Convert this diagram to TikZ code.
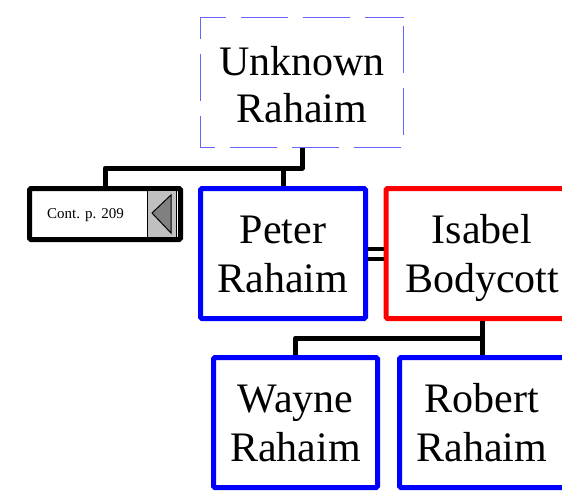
\documentclass[tikz,border=0pt]{standalone}
\usepackage{fontspec}
\setmainfont{Liberation Serif}
\definecolor{dashblue}{RGB}{100,100,255}
\definecolor{panelgrey}{RGB}{192,192,192}
\definecolor{arrowgrey}{RGB}{128,128,128}
\newcommand{\twolines}[3]{\raisebox{0pt}[0pt][#1]{\begin{tabular}[t]{@{}c@{}}#2\\#3\end{tabular}}}
\begin{document}
\begin{tikzpicture}[x=1pt,y=-1pt,
  person/.style={draw=#1, line width=5pt, rounded corners=1.5pt,
    font=\fontsize{42}{49}\selectfont, inner sep=0pt,
    minimum width=165pt, minimum height=130pt},
  unknownbox/.style={draw=none, font=\fontsize{42}{47}\selectfont, inner sep=0pt,
    minimum width=203pt, minimum height=130pt},
  dashedborder/.style={draw=dashblue, line width=1.3pt,
    dash pattern=on 47pt off 15pt, dash phase=53pt},
  contbox/.style={draw=black, line width=5pt, rounded corners=1.5pt, inner sep=0pt,
    minimum width=151pt, minimum height=51pt},
  link/.style={draw=black, line width=5pt, line join=round},
  marriage/.style={draw=black, line width=4pt},
  smalltext/.style={inner sep=0pt, font=\fontsize{15}{18}\selectfont}
]
\useasboundingbox (0,0) rectangle (562,490);
\clip (0,0) rectangle (562,490);

\node[unknownbox] (unknown) at (302,82.5) {\twolines{15pt}{Unknown}{Rahaim}};
\draw[dashedborder] (unknown.north east) -- (unknown.south east)
  -- (unknown.south west) -- (unknown.north west) -- cycle;

\node[contbox] (cont) at (105,214) {};
\node[smalltext] (conttext) at (85.5,215) {Cont. p. 209};
\node[draw=black, line width=0.8pt, fill=panelgrey, inner sep=0pt,
      minimum width=29pt, minimum height=47pt] (panel) at (161.5,214) {};
\draw[draw=black, line width=1pt, fill=arrowgrey] (152,213) -- (171,195) -- (171,233) -- cycle;

\node[person=blue] (peter) at (283,253.5) {\twolines{21pt}{Peter}{Rahaim}};
\node[person=red, minimum width=192pt] (isabel) at (482,253.5) {\twolines{21pt}{Isabel}{Bodycott}};
\node[person=blue, minimum width=164pt] (wayne) at (295.5,422.5) {\twolines{21pt}{Wayne}{Rahaim}};
\node[person=blue] (robert) at (482,422.5) {\twolines{21pt}{Robert}{Rahaim}};

\coordinate (j1) at (303,168);
\draw[link] (unknown.south) -- (unknown.south |- j1) -| (cont.north);
\draw[link] (unknown.south |- j1) -| (peter.north);

\draw[marriage] ([yshift=5pt]peter.east) -- ([yshift=5pt]peter.east -| isabel.west);
\draw[marriage] ([yshift=-5pt]peter.east) -- ([yshift=-5pt]peter.east -| isabel.west);

\coordinate (j2) at (483,338);
\draw[link] (isabel.south) -- (isabel.south |- j2) -| (wayne.north);
\draw[link] (isabel.south |- j2) -- (robert.north);
\end{tikzpicture}
\end{document}
